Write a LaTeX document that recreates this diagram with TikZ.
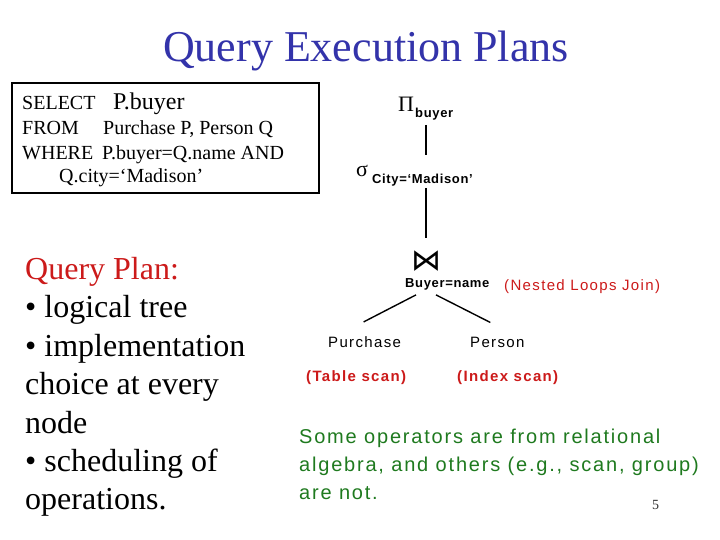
\documentclass[tikz,border=0pt]{standalone}
\usepackage{fontspec}
\usepackage{tikz}
\usetikzlibrary{positioning,calc}
\setmainfont{Liberation Serif}
\newfontfamily\slidesans{Liberation Sans}[LetterSpace=9]
\newfontfamily\labelsans{Liberation Sans}[LetterSpace=5]
\newfontfamily\symbolfont{DejaVu Sans}
\definecolor{titleblue}{HTML}{3333AA}
\definecolor{planred}{HTML}{CC1A1A}
\definecolor{notegreen}{HTML}{1F7A1F}
\tikzset{
  slidetext/.style={inner sep=0pt, anchor=base west},
  opnode/.style={slidetext, font=\fontsize{22}{22}\selectfont},
  subscript/.style={slidetext, font=\labelsans\bfseries\fontsize{13}{13}\selectfont},
  relation/.style={slidetext, font=\slidesans\fontsize{15}{15}\selectfont},
  algo/.style={slidetext, font=\slidesans\bfseries\fontsize{15}{15}\selectfont, text=planred},
  edge/.style={line width=1.4pt},
}

\begin{document}
\begin{tikzpicture}[
  x=1pt, y=1pt,
  sqltext/.style={slidetext, font=\fontsize{20}{20}\selectfont},
  bigtext/.style={slidetext, align=left, font=\fontsize{32}{38.4}\selectfont},
  note/.style={slidetext, align=left, text=notegreen, font=\slidesans\fontsize{20}{28}\selectfont},
]
\path[use as bounding box, fill=white] (0,0) rectangle (720,540);

\node[slidetext, anchor=base, text=titleblue, font=\fontsize{44}{44}\selectfont] (title) at (366,478) {Query Execution Plans};

% SQL query
\node[draw, line width=1.6pt, minimum width=307pt, minimum height=110pt, inner sep=0pt] (sqlbox) at (165.5,402) {};
\node[sqltext] (select) at (22,430) {SELECT};
\node[sqltext, font=\fontsize{24}{24}\selectfont] (selectlist) at (113,430) {P.buyer};
\node[sqltext] (from) at (22,405) {FROM};
\node[sqltext] (fromlist) at (103,405) {Purchase P, Person Q};
\node[sqltext] (where) at (22,380) {WHERE};
\node[sqltext] (wherecond) at (102,380) {P.buyer=Q.name AND};
\node[sqltext] (wherecity) at (59,357) {Q.city=‘Madison’};

\node[bigtext] (plan) at (25,30) {\textcolor{planred}{Query Plan:}\\• logical tree\\• implementation\\choice at every\\node\\• scheduling of\\operations.};

% plan tree
\node[opnode] (proj) at (398,428) {Π};
\node[subscript] (projattr) at (415,422) {buyer};
\node[opnode] (sel) at (356,363) {σ};
\node[subscript] (selcond) at (372,356) {City=‘Madison’};
\node[inner sep=0pt, font=\symbolfont\fontsize{30}{30}\selectfont] (join) at (426,279) {⋈};
\node[subscript] (joincond) at (405,252) {Buyer=name};
\node[slidetext, text=planred, font=\slidesans\fontsize{15}{15}\selectfont] (joinalgo) at (504,249) {(Nested Loops Join)};
\node[relation] (purchase) at (328,192) {Purchase};
\node[relation] (person) at (470,192) {Person};
\node[algo] (purchasescan) at (306,158) {(Table scan)};
\node[algo] (personscan) at (457,158) {(Index scan)};

\draw[edge, shorten <=4pt, shorten >=19pt] (projattr.south -| join) -- (selcond.north -| join);
\draw[edge, shorten <=1pt, shorten >=12pt] (selcond.south -| join) -- (join.north);
\draw[edge] ($(join |- joincond.south)+(-10,-4)$) -- ($(purchase.north)+(-1,15)$);
\draw[edge] ($(join |- joincond.south)+(10,-4)$) -- ($(person.north)+(-7,15)$);

\node[note] (remark) at (299,40) {Some operators are from relational\\algebra, and others (e.g., scan, group)\\are not.};
\node[slidetext, text=black!80, font=\fontsize{14}{14}\selectfont] (pagenum) at (652,30) {5};
\end{tikzpicture}
\end{document}
